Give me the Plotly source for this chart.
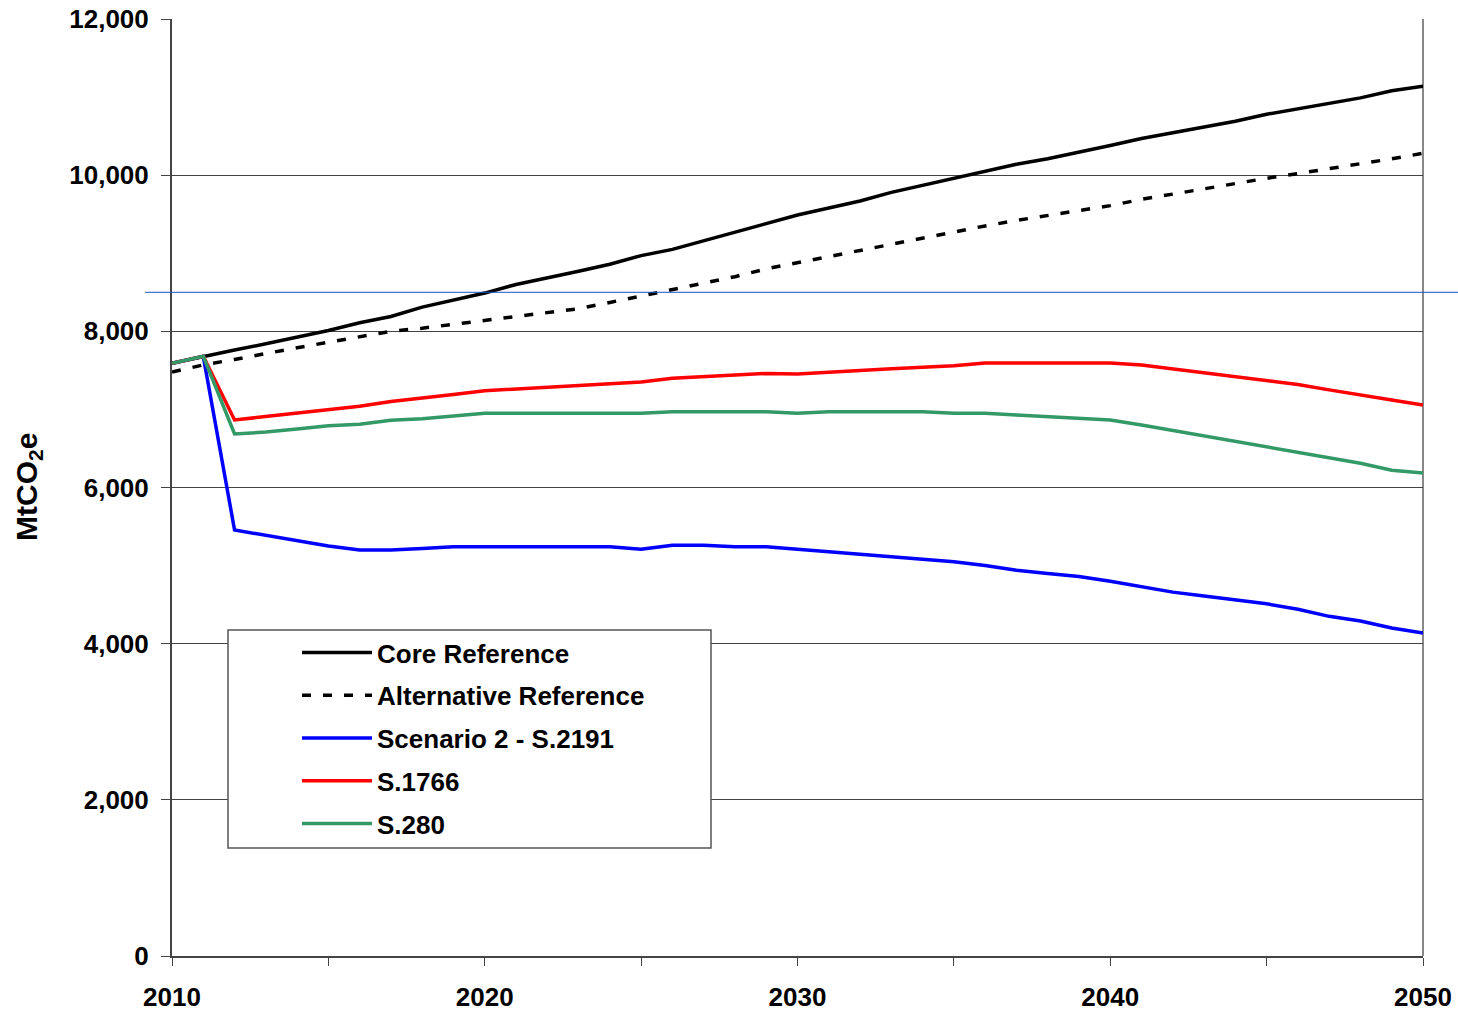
import plotly.graph_objects as go

years = list(range(2010, 2051))

core_reference = [7590, 7680, 7760, 7840, 7920, 8010, 8110, 8190, 8310, 8400,
                  8490, 8600, 8680, 8770, 8860, 8970, 9050, 9160, 9270, 9390,
                  9490, 9580, 9670, 9780, 9870, 9950, 10050, 10140, 10210, 10290,
                  10380, 10470, 10540, 10620, 10690, 10780, 10850, 10930, 10990, 11080,
                  11140]

alternative_reference = [7480, 7570, 7640, 7720, 7790, 7860, 7930, 8000, 8040, 8090,
                         8140, 8190, 8240, 8290, 8370, 8450, 8530, 8610, 8700, 8800,
                         8880, 8960, 9040, 9110, 9190, 9270, 9350, 9420, 9480, 9540,
                         9610, 9690, 9760, 9830, 9890, 9960, 10020, 10080, 10150, 10210,
                         10280]

scenario2_s2191 = [7590, 7680, 5456, 5390, 5320, 5250, 5200, 5200, 5220, 5240,
                   5240, 5240, 5240, 5240, 5240, 5210, 5260, 5260, 5240, 5240,
                   5210, 5180, 5140, 5120, 5080, 5050, 5000, 4940, 4900, 4860,
                   4800, 4730, 4660, 4610, 4560, 4510, 4440, 4350, 4290, 4200,
                   4137]

s1766 = [7590, 7680, 6865, 6910, 6960, 7000, 7040, 7100, 7140, 7190,
         7240, 7260, 7280, 7300, 7320, 7350, 7400, 7420, 7440, 7460,
         7455, 7480, 7500, 7520, 7540, 7560, 7595, 7595, 7595, 7595,
         7595, 7570, 7520, 7480, 7430, 7370, 7320, 7250, 7190, 7120,
         7057]

s280 = [7590, 7680, 6685, 6710, 6750, 6790, 6810, 6860, 6880, 6920,
        6950, 6950, 6950, 6950, 6950, 6950, 6970, 6970, 6970, 6970,
        6950, 6970, 6970, 6970, 6970, 6950, 6950, 6930, 6910, 6890,
        6865, 6800, 6730, 6660, 6580, 6510, 6440, 6380, 6310, 6220,
        6186]

x_ticks = [2010, 2020, 2030, 2040, 2050]
y_ticks = [0, 2000, 4000, 6000, 8000, 10000, 12000]
y_tick_labels = ["0", "2,000", "4,000", "6,000", "8,000", "10,000", "12,000"]
threshold = 8500
y_title = "MtCO<sub>2</sub>e"

series = [
    ("Core Reference", core_reference, "#000000", "solid"),
    ("Alternative Reference", alternative_reference, "#000000", "9px,12px"),
    ("Scenario 2 - S.2191", scenario2_s2191, "#0000ff", "solid"),
    ("S.1766", s1766, "#ff0000", "solid"),
    ("S.280", s280, "#339966", "solid"),
]

fig = go.Figure()
for i, (name, vals, color, dash) in enumerate(series):
    fig.add_trace(go.Scatter(
        x=years, y=vals, name=name, mode="lines",
        line=dict(color=color, width=3.5, dash=dash),
        legendgroup=f"g{i}",
    ))

font_family = "Liberation Sans, Arial, sans-serif"
W_PLOT = 1251
H_PLOT = 937

fig.update_layout(
    width=1458, height=1013,
    margin=dict(l=172, r=35, t=19, b=57),
    plot_bgcolor="white", paper_bgcolor="white",
    font=dict(family=font_family, color="black"),
    showlegend=True,
    legend=dict(
        x=(297 - 172) / W_PLOT, y=(956 - 629) / H_PLOT, xanchor="left", yanchor="top",
        bgcolor="rgba(0,0,0,0)", borderwidth=0,
        font=dict(family=font_family, size=26, color="black", weight="bold"),
        itemwidth=70, tracegroupgap=6,
    ),
    xaxis=dict(
        range=[2010, 2050], tickmode="array", tickvals=x_ticks,
        ticktext=[str(v) for v in x_ticks],
        tickfont=dict(size=26, weight="bold", family=font_family),
        showgrid=False, showline=True, linecolor="#444", linewidth=2,
        ticks="outside", ticklen=8, tickcolor="#444", tickwidth=1,
        ticklabelstandoff=9,
        minor=dict(tickvals=[2015, 2025, 2035, 2045], ticks="outside", ticklen=8, tickcolor="#444"),
        zeroline=False, automargin=False,
    ),
    yaxis=dict(
        range=[0, 12000], tickmode="array", tickvals=y_ticks, ticktext=y_tick_labels,
        tickfont=dict(size=26, weight="bold", family=font_family),
        showgrid=True, gridcolor="#444", gridwidth=1,
        showline=True, linecolor="#444", linewidth=2,
        ticks="outside", ticklen=9, tickcolor="#444",
        ticklabelstandoff=7,
        zeroline=False, automargin=False,
    ),
)

# y-axis title
fig.add_annotation(text=y_title, xref="paper", yref="paper",
                   x=(28 - 172) / W_PLOT, y=(956 - 487) / H_PLOT,
                   xanchor="center", yanchor="middle", textangle=-90, showarrow=False,
                   font=dict(size=30, weight="bold", family=font_family, color="black"))

# legend box
fig.add_shape(type="rect", xref="paper", yref="paper",
              x0=(228 - 172) / W_PLOT, x1=(711 - 172) / W_PLOT,
              y0=(956 - 848) / H_PLOT, y1=(956 - 630) / H_PLOT,
              line=dict(color="#555", width=1.5), fillcolor="white", layer="above")

# right frame line
fig.add_shape(type="line", xref="paper", yref="paper", x0=1, x1=1, y0=0, y1=1,
              line=dict(color="#888", width=2), layer="below")

# threshold line extending beyond plot area
fig.add_shape(type="line", xref="paper", yref="y",
              x0=(145 - 172) / W_PLOT, x1=(1458 - 172) / W_PLOT,
              y0=threshold, y1=threshold,
              line=dict(color="#1a56c4", width=1), layer="above")

fig.write_html("out.html", config={"displayModeBar": False},
               post_script="document.body.style.margin='0';")
